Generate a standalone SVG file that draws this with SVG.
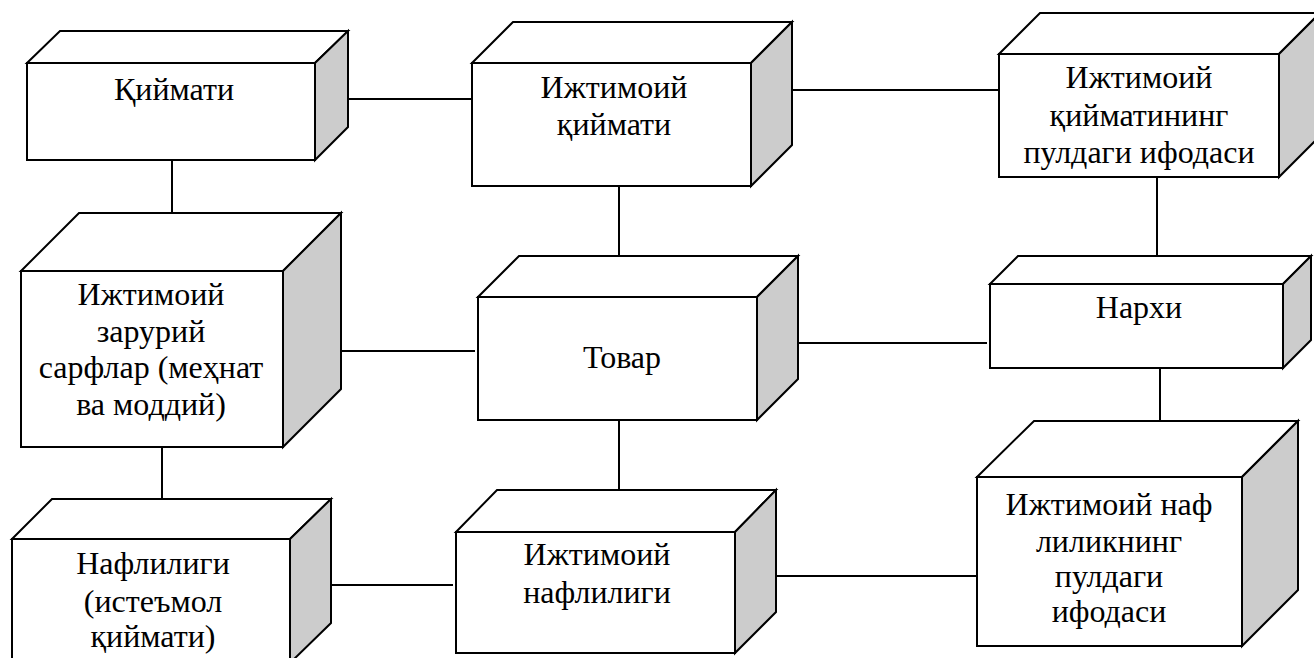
<svg xmlns="http://www.w3.org/2000/svg" width="1314" height="658" viewBox="0 0 1314 658">
<style>
.front{fill:#ffffff;stroke:#000;stroke-width:2}
.top{fill:#ffffff;stroke:#000;stroke-width:2}
.side{fill:#cccccc;stroke:#000;stroke-width:2}
.lbl{font-size:32px;fill:#000;text-anchor:middle}
.conn line{stroke:#000;stroke-width:2}
</style>
<rect x="0" y="0" width="1314" height="658" fill="#ffffff"/>
<g class="conn" id="connectors">
<line x1="347" y1="99" x2="475" y2="99"/>
<line x1="172" y1="160" x2="172" y2="213"/>
<line x1="792" y1="90" x2="999" y2="90"/>
<line x1="619" y1="186" x2="619" y2="256"/>
<line x1="1157" y1="177" x2="1157" y2="256"/>
<line x1="340" y1="351" x2="475" y2="351"/>
<line x1="798" y1="343" x2="987" y2="343"/>
<line x1="1160" y1="368" x2="1160" y2="421"/>
<line x1="162" y1="447" x2="162" y2="499"/>
<line x1="619" y1="420" x2="619" y2="490"/>
<line x1="331" y1="585" x2="453" y2="585"/>
<line x1="776" y1="576" x2="977" y2="576"/>
</g>
<g id="node-qiymati">
<polygon class="top" points="27,63 60,31 348,31 315,63"/>
<polygon class="side" points="315,63 348,31 348,127 315,160"/>
<rect class="front" x="27" y="63" width="288" height="97"/>
<text class="lbl" font-family="Liberation Serif" x="174" y="100">Қиймати</text>
</g>
<g id="node-ijtimoiy-qiymati">
<polygon class="top" points="472,63 513,22 792,22 751,63"/>
<polygon class="side" points="751,63 792,22 792,145 751,186"/>
<rect class="front" x="472" y="63" width="279" height="123"/>
<text class="lbl" font-family="Liberation Serif" x="614" y="98">Ижтимоий</text>
<text class="lbl" font-family="Liberation Serif" x="614" y="135">қиймати</text>
</g>
<g id="node-pul-ifodasi">
<polygon class="top" points="999,54 1040,13 1320,13 1279,54"/>
<polygon class="side" points="1279,54 1320,13 1320,136 1279,177"/>
<rect class="front" x="999" y="54" width="280" height="123"/>
<text class="lbl" font-family="Liberation Serif" x="1139" y="88">Ижтимоий</text>
<text class="lbl" font-family="Liberation Serif" x="1139" y="126">қийматининг</text>
<text class="lbl" font-family="Liberation Serif" x="1139" y="163">пулдаги ифодаси</text>
</g>
<g id="node-zaruriy">
<polygon class="top" points="21,271 79,213 341,213 283,271"/>
<polygon class="side" points="283,271 341,213 341,389 283,447"/>
<rect class="front" x="21" y="271" width="262" height="176"/>
<text class="lbl" font-family="Liberation Serif" x="151" y="305">Ижтимоий</text>
<text class="lbl" font-family="Liberation Serif" x="151" y="342">зарурий</text>
<text class="lbl" font-family="Liberation Serif" x="151" y="378">сарфлар (меҳнат</text>
<text class="lbl" font-family="Liberation Serif" x="151" y="415">ва моддий)</text>
</g>
<g id="node-tovar">
<polygon class="top" points="478,297 519,256 798,256 757,297"/>
<polygon class="side" points="757,297 798,256 798,379 757,420"/>
<rect class="front" x="478" y="297" width="279" height="123"/>
<text class="lbl" font-family="Liberation Serif" x="622" y="368">Товар</text>
</g>
<g id="node-narxi">
<polygon class="top" points="990,284 1018,256 1311,256 1283,284"/>
<polygon class="side" points="1283,284 1311,256 1311,340 1283,368"/>
<rect class="front" x="990" y="284" width="293" height="84"/>
<text class="lbl" font-family="Liberation Serif" x="1139" y="318">Нархи</text>
</g>
<g id="node-naf-pul">
<polygon class="top" points="977,477 1034,421 1298,421 1242,477"/>
<polygon class="side" points="1242,477 1298,421 1298,590 1242,646"/>
<rect class="front" x="977" y="477" width="265" height="169"/>
<text class="lbl" font-family="Liberation Serif" x="1109" y="515">Ижтимоий наф</text>
<text class="lbl" font-family="Liberation Serif" x="1109" y="552">лиликнинг</text>
<text class="lbl" font-family="Liberation Serif" x="1109" y="587">пулдаги</text>
<text class="lbl" font-family="Liberation Serif" x="1109" y="622">ифодаси</text>
</g>
<g id="node-ijtimoiy-naflilig">
<polygon class="top" points="456,532 497,490 776,490 735,532"/>
<polygon class="side" points="735,532 776,490 776,612 735,653"/>
<rect class="front" x="456" y="532" width="279" height="121"/>
<text class="lbl" font-family="Liberation Serif" x="597" y="565">Ижтимоий</text>
<text class="lbl" font-family="Liberation Serif" x="597" y="603">нафлилиги</text>
</g>
<g id="node-naflilig">
<polygon class="top" points="12,539 52,499 331,499 290,539"/>
<polygon class="side" points="290,539 331,499 331,623 290,663"/>
<rect class="front" x="12" y="539" width="278" height="124"/>
<text class="lbl" font-family="Liberation Serif" x="153" y="574">Нафлилиги</text>
<text class="lbl" font-family="Liberation Serif" x="153" y="612">(истеъмол</text>
<text class="lbl" font-family="Liberation Serif" x="153" y="647">қиймати)</text>
</g>
</svg>
